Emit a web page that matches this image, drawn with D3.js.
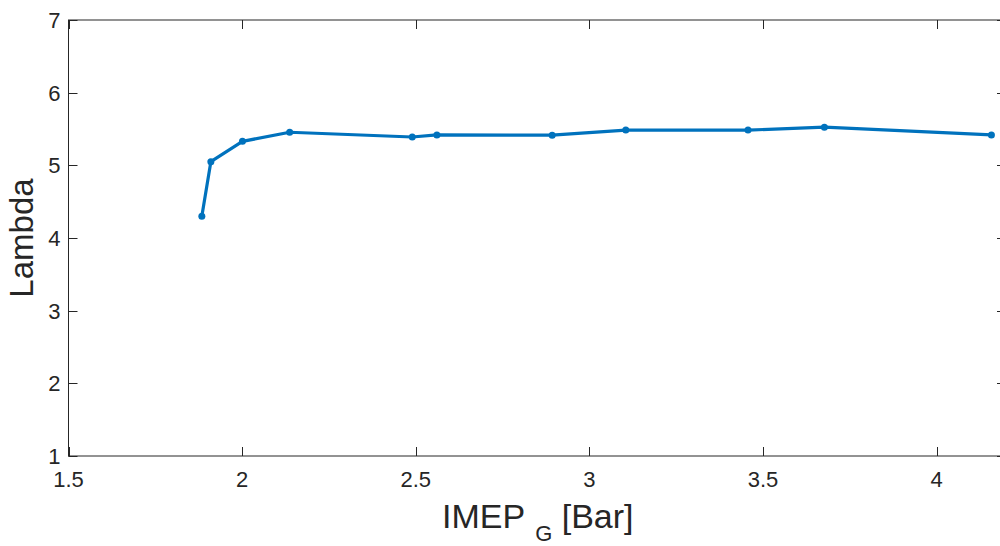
<!DOCTYPE html>
<html>
<head>
<meta charset="utf-8">
<script src="https://cdn.jsdelivr.net/npm/d3@7"></script>
<style>
  html, body { margin: 0; padding: 0; background: #fff; overflow: hidden; }
  svg { display: block; }
  text { font-family: "Liberation Sans", Arial, Helvetica, sans-serif; fill: #262626; }
</style>
</head>
<body>
<svg id="chart" width="1000" height="546"></svg>
<script>
// Gross IMEP [bar] and lambda measured at each operating point
const imepG = [1.884, 1.910, 2.001, 2.137, 2.490, 2.561, 2.893, 3.105, 3.457, 3.677, 4.158];
const lambda = [4.30, 5.05, 5.33, 5.455, 5.39, 5.418, 5.415, 5.485, 5.485, 5.525, 5.418];

const xTicks = [1.5, 2, 2.5, 3, 3.5, 4];
const yTicks = [1, 2, 3, 4, 5, 6, 7];
const xDomain = [1.5, 4.2];
const yDomain = [1, 7];

const svg = d3.select("#chart");
const plotLeft = 68.5, plotRight = 1006, plotTop = 20, plotBottom = 456;
const tickLen = 9;
const axisColor = "#262626";

const x = d3.scaleLinear().domain(xDomain).range([plotLeft, plotRight]);
const y = d3.scaleLinear().domain(yDomain).range([plotBottom, plotTop]);

const g = svg.append("g");

// box outline
g.append("rect")
  .attr("x", plotLeft).attr("y", plotTop)
  .attr("width", plotRight - plotLeft).attr("height", plotBottom - plotTop)
  .attr("fill", "none").attr("stroke", axisColor).attr("stroke-width", 1);

// inward ticks on all four sides
const tk = g.append("g").attr("stroke", axisColor).attr("stroke-width", 1);
xTicks.forEach(v => {
  const px = Math.round(x(v)) + 0.5;
  tk.append("line").attr("x1", px).attr("x2", px).attr("y1", plotBottom).attr("y2", plotBottom - tickLen);
  tk.append("line").attr("x1", px).attr("x2", px).attr("y1", plotTop).attr("y2", plotTop + tickLen);
});
yTicks.forEach(v => {
  const py = Math.round(y(v)) + 0.5;
  tk.append("line").attr("x1", plotLeft).attr("x2", plotLeft + tickLen).attr("y1", py).attr("y2", py);
  tk.append("line").attr("x1", plotRight).attr("x2", plotRight - tickLen).attr("y1", py).attr("y2", py);
});

// tick labels
g.selectAll("text.xt").data(xTicks).enter().append("text")
  .attr("class", "xt")
  .attr("x", d => x(d)).attr("y", plotBottom + 31)
  .attr("text-anchor", "middle")
  .style("font-size", "22px")
  .text(d => d3.format("")(d));

g.selectAll("text.yt").data(yTicks).enter().append("text")
  .attr("class", "yt")
  .attr("x", plotLeft - 8).attr("y", d => y(d) + 8)
  .attr("text-anchor", "end")
  .style("font-size", "22px")
  .text(d => d);

// data line with point markers
const line = d3.line().x((d, i) => x(imepG[i])).y(d => y(d));
g.append("path")
  .datum(lambda)
  .attr("d", line)
  .attr("fill", "none")
  .attr("stroke", "#0072BD")
  .attr("stroke-width", 3.2)
  .attr("stroke-linejoin", "round");

g.selectAll("circle.pt").data(lambda).enter().append("circle")
  .attr("class", "pt")
  .attr("cx", (d, i) => x(imepG[i]))
  .attr("cy", d => y(d))
  .attr("r", 3.5)
  .attr("fill", "#0072BD");

// axis titles
g.append("text")
  .attr("transform", `translate(33, ${(plotTop + plotBottom) / 2}) rotate(-90)`)
  .attr("text-anchor", "middle")
  .style("font-size", "33px")
  .text("Lambda");

const xl = g.append("text")
  .attr("x", 442).attr("y", 528)
  .attr("text-anchor", "start")
  .style("font-size", "34px");
xl.append("tspan").text("IMEP");
xl.append("tspan").attr("dx", 10).attr("dy", 13).style("font-size", "22px").text("G");
xl.append("tspan").attr("dy", -13).text(" [Bar]");
</script>
</body>
</html>
